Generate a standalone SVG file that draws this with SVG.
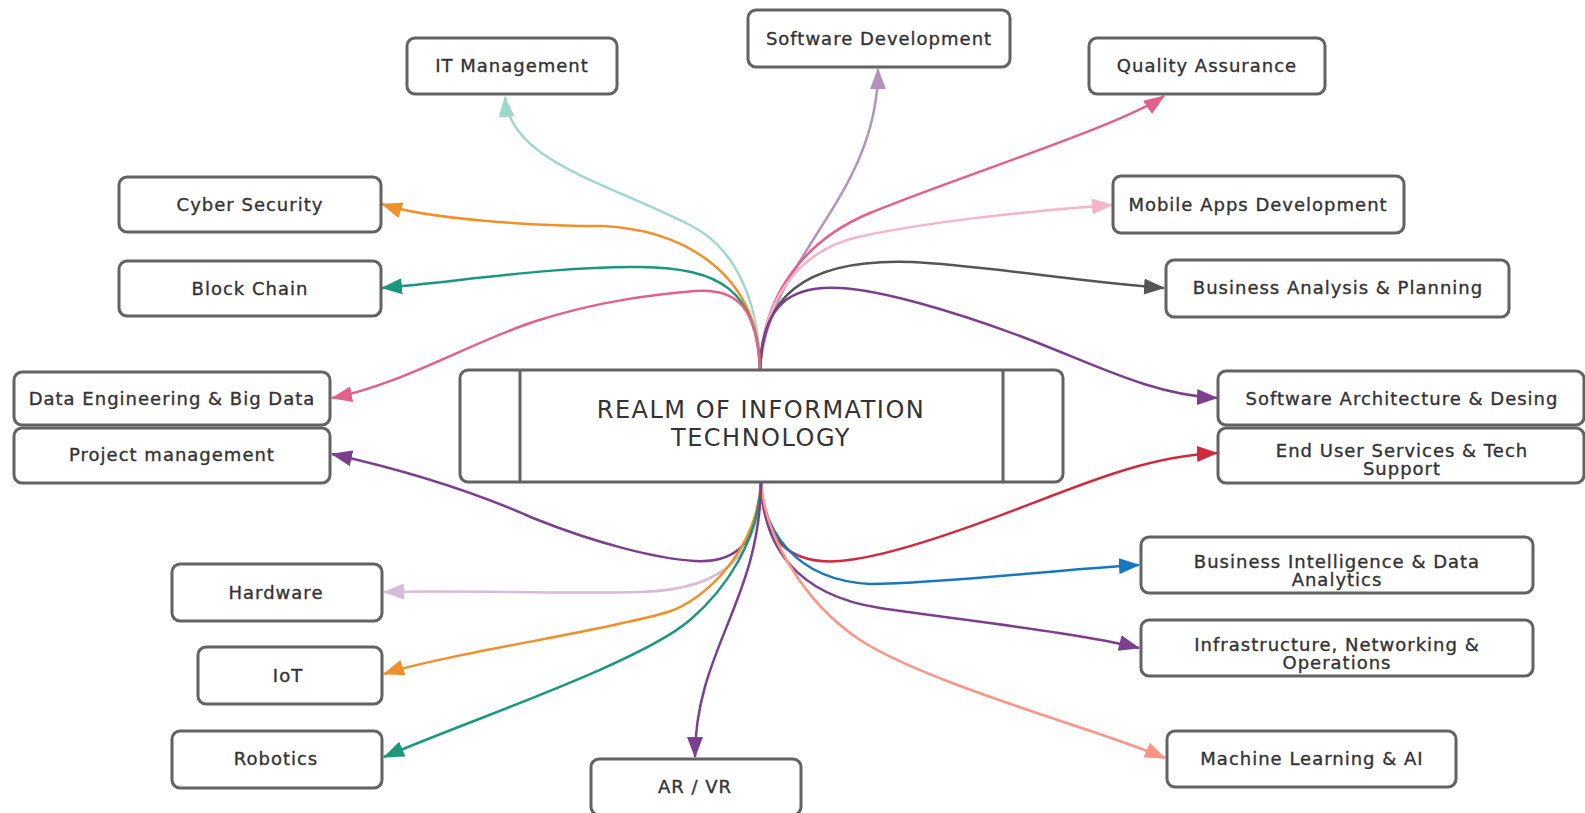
<svg xmlns="http://www.w3.org/2000/svg" width="1585" height="813" viewBox="0 0 1585 813">
<style>
.box{fill:#fff;stroke:#626262;stroke-width:3}
.t{font-family:"DejaVu Sans","Liberation Sans",sans-serif;font-size:18px;letter-spacing:1px;fill:#333;stroke:#333;stroke-width:0.35px;text-anchor:middle}
.title{font-family:"DejaVu Sans","Liberation Sans",sans-serif;font-size:24px;letter-spacing:1.5px;fill:#333;text-anchor:middle}
.e{fill:none;stroke-width:2.5}
</style>
<defs>
<marker id="m-itm" markerUnits="userSpaceOnUse" markerWidth="22" markerHeight="16" refX="20" refY="8" orient="auto"><path d="M0,0 L21,8 L0,16 Z" fill="#9ed8cb"/></marker>
<marker id="m-sd" markerUnits="userSpaceOnUse" markerWidth="22" markerHeight="16" refX="20" refY="8" orient="auto"><path d="M0,0 L21,8 L0,16 Z" fill="#b393be"/></marker>
<marker id="m-pk" markerUnits="userSpaceOnUse" markerWidth="22" markerHeight="16" refX="20" refY="8" orient="auto"><path d="M0,0 L21,8 L0,16 Z" fill="#e2608a"/></marker>
<marker id="m-lp" markerUnits="userSpaceOnUse" markerWidth="22" markerHeight="16" refX="20" refY="8" orient="auto"><path d="M0,0 L21,8 L0,16 Z" fill="#f5b4c9"/></marker>
<marker id="m-gr" markerUnits="userSpaceOnUse" markerWidth="22" markerHeight="16" refX="20" refY="8" orient="auto"><path d="M0,0 L21,8 L0,16 Z" fill="#555"/></marker>
<marker id="m-pu" markerUnits="userSpaceOnUse" markerWidth="22" markerHeight="16" refX="20" refY="8" orient="auto"><path d="M0,0 L21,8 L0,16 Z" fill="#7b3f8d"/></marker>
<marker id="m-or" markerUnits="userSpaceOnUse" markerWidth="22" markerHeight="16" refX="20" refY="8" orient="auto"><path d="M0,0 L21,8 L0,16 Z" fill="#f0902a"/></marker>
<marker id="m-gn" markerUnits="userSpaceOnUse" markerWidth="22" markerHeight="16" refX="20" refY="8" orient="auto"><path d="M0,0 L21,8 L0,16 Z" fill="#1b977c"/></marker>
<marker id="m-rd" markerUnits="userSpaceOnUse" markerWidth="22" markerHeight="16" refX="20" refY="8" orient="auto"><path d="M0,0 L21,8 L0,16 Z" fill="#d02a3e"/></marker>
<marker id="m-bl" markerUnits="userSpaceOnUse" markerWidth="22" markerHeight="16" refX="20" refY="8" orient="auto"><path d="M0,0 L21,8 L0,16 Z" fill="#1878bd"/></marker>
<marker id="m-sa" markerUnits="userSpaceOnUse" markerWidth="22" markerHeight="16" refX="20" refY="8" orient="auto"><path d="M0,0 L21,8 L0,16 Z" fill="#fd9484"/></marker>
<marker id="m-li" markerUnits="userSpaceOnUse" markerWidth="22" markerHeight="16" refX="20" refY="8" orient="auto"><path d="M0,0 L21,8 L0,16 Z" fill="#d6bcd8"/></marker>
</defs>
<rect width="1585" height="813" fill="#fff"/>
<g id="connectors">
<path class="e" stroke="#9ed8cb" marker-end="url(#m-itm)" d="M760,372 C760,310 740,250 690,225 C600,180 510,160 505,97"/>
<path class="e" stroke="#b393be" marker-end="url(#m-sd)" d="M760,372 C765,260 878,200 878,69"/>
<path class="e" stroke="#e2608a" marker-end="url(#m-pk)" d="M760,372 C761,295 805,240 870,213 C960,176 1120,126 1164,96"/>
<path class="e" stroke="#f5b4c9" marker-end="url(#m-lp)" d="M760,372 C761,300 800,250 858,237 C930,221 1040,210 1112,205"/>
<path class="e" stroke="#555" marker-end="url(#m-gr)" d="M760,372 C761,300 800,258 912,262 C980,265 1080,282 1164,288"/>
<path class="e" stroke="#7b3f8d" marker-end="url(#m-pu)" d="M760,372 C761,305 790,285 840,288 C880,290 950,310 1020,336 C1090,362 1150,395 1217,398"/>
<path class="e" stroke="#f0902a" marker-end="url(#m-or)" d="M760,372 C760,270 680,230 603,226 C540,226 430,220 382,204"/>
<path class="e" stroke="#1b977c" marker-end="url(#m-gn)" d="M760,372 C758,290 720,268 640,267 C560,266 470,280 382,288"/>
<path class="e" stroke="#e2608a" marker-end="url(#m-pk)" d="M760,372 C758,305 735,288 695,291 C660,294 600,300 533,322 C470,343 400,385 332,398"/>
<path class="e" stroke="#7b3f8d" marker-end="url(#m-pu)" d="M761,480 C760,545 735,563 695,561 C660,559 600,545 533,518 C470,490 395,468 332,454"/>
<path class="e" stroke="#d02a3e" marker-end="url(#m-rd)" d="M761,480 C761,540 790,565 840,561 C880,558 950,535 1020,508 C1090,481 1150,456 1217,453"/>
<path class="e" stroke="#1878bd" marker-end="url(#m-bl)" d="M761,480 C762,530 795,580 870,584 C950,583 1050,570 1139,565"/>
<path class="e" stroke="#7b3f8d" marker-end="url(#m-pu)" d="M761,480 C762,545 795,595 880,608 C960,620 1080,633 1139,648"/>
<path class="e" stroke="#fd9484" marker-end="url(#m-sa)" d="M761,480 C763,530 800,600 860,640 C930,685 1100,730 1165,758"/>
<path class="e" stroke="#d6bcd8" marker-end="url(#m-li)" d="M761,480 C760,550 730,590 640,592 C560,594 460,590 384,592"/>
<path class="e" stroke="#f0902a" marker-end="url(#m-or)" d="M761,480 C758,550 705,600 668,612 C610,630 440,655 384,674"/>
<path class="e" stroke="#1b977c" marker-end="url(#m-gn)" d="M761,480 C760,540 725,590 690,620 C640,663 470,720 384,757"/>
<path class="e" stroke="#7b3f8d" marker-end="url(#m-pu)" d="M761,480 C761,600 695,650 695,757"/>
</g>
<g id="center">
<rect class="box" x="460" y="370" width="603" height="112" rx="8"/>
<line x1="520" y1="370" x2="520" y2="482" stroke="#626262" stroke-width="3"/>
<line x1="1003" y1="370" x2="1003" y2="482" stroke="#626262" stroke-width="3"/>
<text class="title" x="761" y="418">REALM OF INFORMATION</text>
<text class="title" x="761" y="446">TECHNOLOGY</text>
</g>
<g id="it-management"><rect class="box" x="407" y="38" width="210" height="56" rx="8"/><text class="t" x="512" y="72">IT Management</text></g>
<g id="software-development"><rect class="box" x="748" y="10" width="262" height="57" rx="8"/><text class="t" x="879" y="45">Software Development</text></g>
<g id="quality-assurance"><rect class="box" x="1089" y="38" width="236" height="56" rx="8"/><text class="t" x="1207" y="72">Quality Assurance</text></g>
<g id="cyber-security"><rect class="box" x="119" y="177" width="262" height="55" rx="8"/><text class="t" x="250" y="211">Cyber Security</text></g>
<g id="block-chain"><rect class="box" x="119" y="261" width="262" height="55" rx="8"/><text class="t" x="250" y="295">Block Chain</text></g>
<g id="data-engineering"><rect class="box" x="14" y="372" width="316" height="53" rx="8"/><text class="t" x="172" y="405">Data Engineering &amp; Big Data</text></g>
<g id="project-management"><rect class="box" x="14" y="428" width="316" height="55" rx="8"/><text class="t" x="172" y="461">Project management</text></g>
<g id="mobile-apps"><rect class="box" x="1113" y="176" width="291" height="57" rx="8"/><text class="t" x="1258" y="211">Mobile Apps Development</text></g>
<g id="business-analysis"><rect class="box" x="1166" y="260" width="343" height="57" rx="8"/><text class="t" x="1338" y="294">Business Analysis &amp; Planning</text></g>
<g id="software-architecture"><rect class="box" x="1218" y="371" width="366" height="54" rx="8"/><text class="t" x="1402" y="405">Software Architecture &amp; Desing</text></g>
<g id="end-user-services"><rect class="box" x="1218" y="428" width="366" height="55" rx="8"/><text class="t" x="1402" y="457">End User Services &amp; Tech</text><text class="t" x="1402" y="475">Support</text></g>
<g id="business-intelligence"><rect class="box" x="1141" y="537" width="392" height="56" rx="8"/><text class="t" x="1337" y="568">Business Intelligence &amp; Data</text><text class="t" x="1337" y="586">Analytics</text></g>
<g id="infrastructure"><rect class="box" x="1141" y="620" width="392" height="56" rx="8"/><text class="t" x="1337" y="651">Infrastructure, Networking &amp;</text><text class="t" x="1337" y="669">Operations</text></g>
<g id="machine-learning"><rect class="box" x="1167" y="731" width="289" height="56" rx="8"/><text class="t" x="1312" y="765">Machine Learning &amp; AI</text></g>
<g id="hardware"><rect class="box" x="172" y="564" width="210" height="57" rx="8"/><text class="t" x="276" y="599">Hardware</text></g>
<g id="iot"><rect class="box" x="198" y="647" width="184" height="57" rx="8"/><text class="t" x="288" y="682">IoT</text></g>
<g id="robotics"><rect class="box" x="172" y="731" width="210" height="57" rx="8"/><text class="t" x="276" y="765">Robotics</text></g>
<g id="ar-vr"><rect class="box" x="591" y="759" width="210" height="56" rx="8"/><text class="t" x="695" y="793">AR / VR</text></g>
</svg>
